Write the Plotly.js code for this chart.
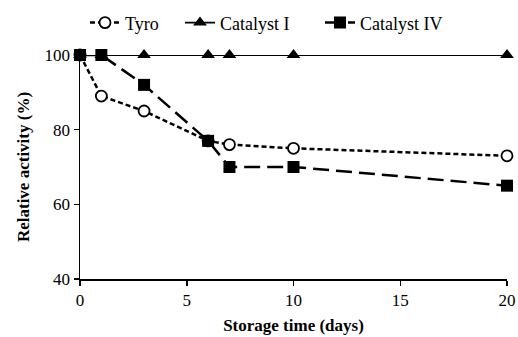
<!DOCTYPE html>
<html><head><meta charset="utf-8">
<script src="https://cdn.plot.ly/plotly-3.0.1.min.js"></script>
<style>html,body{margin:0;padding:0;background:#fff}</style>
</head><body><div id="chart" style="width:518px;height:337px"></div>
<script>
const days = [0, 1, 3, 6, 7, 10, 20];
const tyro = [100, 89, 85, 77, 76, 75, 73];
const catalystI = [100, 100, 100, 100, 100, 100, 100];
const catalystIV = [100, 100, 92, 77, 70, 70, 65];
const seriesNames = ["Tyro", "Catalyst I", "Catalyst IV"];

const serif = "Liberation Serif";
const traces = [
  {x: days, y: tyro, name: seriesNames[0], legend: "legend", mode: "lines+markers", cliponaxis: false,
   line: {color: "#000", width: 2.5, dash: "5px,3px"},
   marker: {symbol: "circle", size: 11, color: "#fff", line: {color: "#000", width: 1.8}}},
  {x: days, y: catalystI, name: seriesNames[1], legend: "legend2", mode: "lines+markers", cliponaxis: false,
   line: {color: "#000", width: 1.8},
   marker: {symbol: "triangle-up", size: 12, color: "#000"}},
  {x: days, y: catalystIV, name: seriesNames[2], legend: "legend3", mode: "lines+markers", cliponaxis: false,
   line: {color: "#000", width: 2.5, dash: "16px,7px"},
   marker: {symbol: "square", size: 12, color: "#000"}}
];

function leg(xpx) {
  return {orientation: "h", xref: "container", yref: "container",
          x: xpx / 518, xanchor: "left", y: 0.932, yanchor: "middle",
          font: {family: serif, size: 18, color: "#000"}, itemwidth: 30,
          bgcolor: "rgba(0,0,0,0)"};
}

const layout = {
  width: 518, height: 337,
  margin: {l: 80, r: 11, t: 55, b: 58, autoexpand: false},
  paper_bgcolor: "#fff", plot_bgcolor: "#fff",
  font: {family: serif, size: 17, color: "#000"},
  showlegend: true,
  legend: leg(85), legend2: leg(180), legend3: leg(320),
  xaxis: {range: [0, 20], dtick: 5, tick0: 0, showgrid: false, zeroline: false,
          showline: true, linecolor: "#000", linewidth: 1.5,
          ticks: "outside", ticklen: 5, tickcolor: "#000", tickwidth: 1.5,
          tickfont: {family: serif, size: 17, color: "#000"},
          title: {text: "<b>Storage time (days)</b>", font: {family: serif, size: 17}, standoff: 10}},
  yaxis: {range: [40, 100], dtick: 20, tick0: 40, showgrid: false, zeroline: false,
          showline: true, linecolor: "#000", linewidth: 1.5,
          ticks: "outside", ticklen: 5, tickcolor: "#000", tickwidth: 1.5,
          tickfont: {family: serif, size: 17, color: "#000"},
          title: {text: "<b>Relative activity (%)</b>", font: {family: serif, size: 17}, standoff: 10}}
};
Plotly.newPlot("chart", traces, layout, {displayModeBar: false, staticPlot: true});
</script></body></html>
